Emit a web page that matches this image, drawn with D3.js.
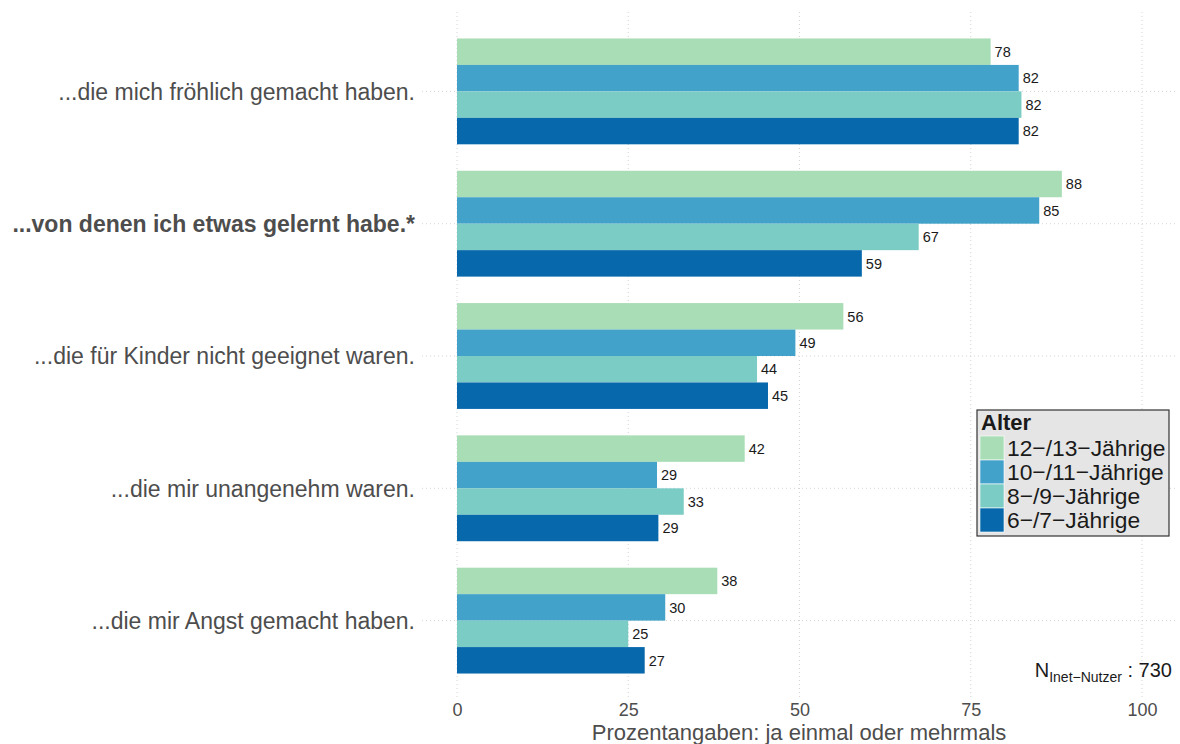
<!DOCTYPE html>
<html><head><meta charset="utf-8">
<script src="https://cdn.jsdelivr.net/npm/d3@7"></script>
<style>body{margin:0;background:#fff}svg{display:block}text{font-family:"Liberation Sans",Arial,sans-serif}</style>
</head><body><svg id="c" width="1180" height="744"></svg>
<script>
const categories = ["...die mich fröhlich gemacht haben.", "...von denen ich etwas gelernt habe.*", "...die für Kinder nicht geeignet waren.", "...die mir unangenehm waren.", "...die mir Angst gemacht haben."];
const boldCategory = "...von denen ich etwas gelernt habe.*";
const series = ["12−/13−Jährige", "10−/11−Jährige", "8−/9−Jährige", "6−/7−Jährige"];
const colors = ["#a8ddb5", "#43a2ca", "#7bccc4", "#0868ac"];
const v12_13 = [77.9, 88.3, 56.4, 42.0, 38.0];
const v10_11 = [82.0, 85.0, 49.4, 29.2, 30.4];
const v8_9 = [82.4, 67.4, 43.8, 33.1, 25.0];
const v6_7 = [82.0, 59.1, 45.4, 29.4, 27.4];
const xTicks = [0, 25, 50, 75, 100];
const legendTitle = "Alter";
const xTitle = "Prozentangaben: ja einmal oder mehrmals";
const nValue = 730;

const values = [v12_13, v10_11, v8_9, v6_7];
const svg = d3.select("#c");
const panel = {l: 422, r: 1176, t: 12, b: 700};
const x = d3.scaleLinear().domain([0, 100]).range([457, 1142]);
const y = d3.scalePoint().domain(categories).range([panel.t, panel.b]).padding(0.6);
const step = y.step();
const inner = d3.scaleBand().domain(series).range([-0.4 * step, 0.4 * step]);

// grid
const grid = svg.append("g").attr("stroke", "#d4d4d4").attr("stroke-width", 1).attr("stroke-dasharray", "1,3");
grid.selectAll("line.v").data(xTicks).join("line").attr("class", "v")
  .attr("x1", d => x(d)).attr("x2", d => x(d)).attr("y1", panel.t).attr("y2", panel.b);
grid.selectAll("line.h").data(categories).join("line").attr("class", "h")
  .attr("x1", panel.l).attr("x2", panel.r).attr("y1", d => y(d)).attr("y2", d => y(d));

// bars
const data = [];
categories.forEach((c, i) => series.forEach((s, j) => data.push({c, s, v: values[j][i], col: colors[j]})));
svg.append("g").selectAll("rect").data(data).join("rect")
  .attr("x", x(0)).attr("y", d => y(d.c) + inner(d.s))
  .attr("width", d => x(d.v) - x(0)).attr("height", inner.bandwidth())
  .attr("fill", d => d.col);
svg.append("g").selectAll("text").data(data).join("text")
  .attr("x", d => x(d.v) + 4).attr("y", d => y(d.c) + inner(d.s) + inner.bandwidth() / 2)
  .attr("dy", "0.36em").attr("font-size", 14.5).attr("fill", "#1a1a1a")
  .text(d => Math.round(d.v));

// y labels
svg.append("g").selectAll("text").data(categories).join("text")
  .attr("x", 415).attr("y", d => y(d)).attr("dy", "0.36em").attr("text-anchor", "end")
  .attr("font-size", 23).attr("fill", "#4d4d4d")
  .attr("font-weight", d => d === boldCategory ? "bold" : "normal")
  .text(d => d);

// x axis
const xa = svg.append("g").attr("transform", `translate(0,${panel.b})`)
  .call(d3.axisBottom(x).tickValues(xTicks).tickSize(0).tickPadding(3));
xa.select(".domain").remove();
xa.selectAll("text").attr("font-size", 18).attr("fill", "#4d4d4d").attr("font-family", "Liberation Sans, Arial, sans-serif");
svg.append("text").attr("x", (panel.l + panel.r) / 2).attr("y", 740).attr("text-anchor", "middle")
  .attr("font-size", 22).attr("fill", "#4d4d4d").text(xTitle);

// N annotation
const nt = svg.append("text").attr("x", 1172).attr("y", 677).attr("text-anchor", "end").attr("fill", "#1a1a1a").attr("font-size", 20);
nt.append("tspan").text("N");
nt.append("tspan").attr("font-size", 14).attr("dy", 5).text("Inet−Nutzer");
nt.append("tspan").attr("dy", -5).text(" : " + nValue);

// legend
const lg = svg.append("g").attr("transform", "translate(977,410)");
lg.append("rect").attr("width", 192).attr("height", 126).attr("fill", "#e5e5e5").attr("stroke", "#333").attr("stroke-width", 1.2);
lg.append("text").attr("x", 4).attr("y", 20).attr("font-size", 22).attr("font-weight", "bold").attr("fill", "#1a1a1a").text(legendTitle);
const ky = d3.scaleBand().domain(series).range([26, 122]);
lg.selectAll("rect.k").data(series).join("rect").attr("class", "k")
  .attr("x", 3).attr("y", d => ky(d)).attr("width", 24).attr("height", ky.bandwidth())
  .attr("fill", (d, i) => colors[i]).attr("stroke", "#fff").attr("stroke-width", 0.6);
lg.selectAll("text.l").data(series).join("text").attr("class", "l")
  .attr("x", 30).attr("y", d => ky(d) + ky.bandwidth() / 2).attr("dy", "0.36em")
  .attr("font-size", 22.8).attr("fill", "#1a1a1a").text(d => d);
</script></body></html>
